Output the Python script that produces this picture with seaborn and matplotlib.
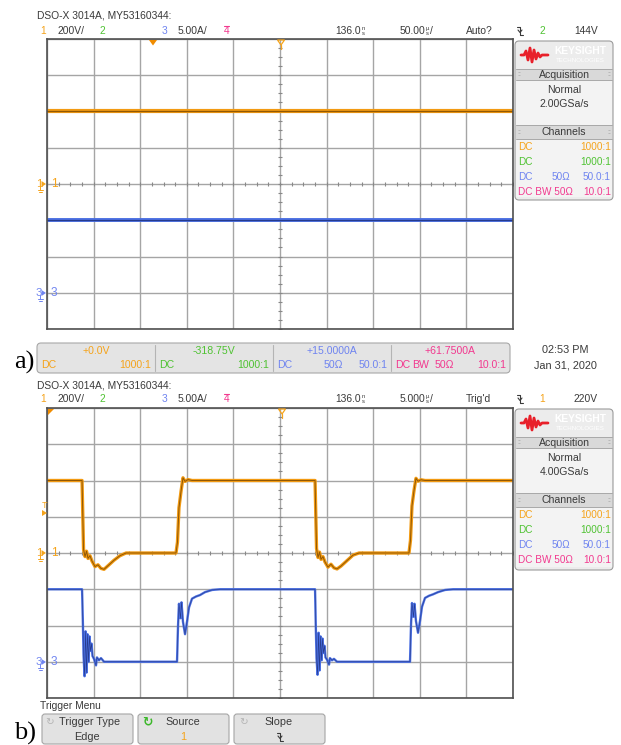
import numpy as np
import pandas as pd
import matplotlib
matplotlib.use("Agg")
import matplotlib.pyplot as plt
import seaborn as sns
from matplotlib.patches import FancyBboxPatch, Polygon

sns.set_theme(style="white")
plt.rcParams["font.family"] = ["Liberation Sans Narrow", "Liberation Sans", "DejaVu Sans"]

# ---------------------------------------------------------------- data
# vertical settings of the two displayed channels
CH1_SCALE = 200.0      # V/div
CH3_SCALE = 5.0        # A/div
CH1_OFFSET_DIV = 0.0   # ground reference of channel 1 (divisions)
CH3_OFFSET_DIV = -3.0  # ground reference of channel 3 (divisions)

# screen a) : 50 us/div, steady conduction
a_time_us = [-250.0, 250.0]
a_ch1_volts = [400.0, 400.0]
a_ch3_amps = [10.0, 10.0]

# screen b) : 5 us/div, switching waveforms
b_ch1_time_us = [-25.0, -21.24, -21.08, -20.92, -20.76, -20.60, -20.39, -20.17, -19.85,
                 -19.53, -19.21, -18.88, -18.45, -17.81, -17.17, -16.52, -11.16, -11.00,
                 -10.84, -10.62, -10.41, -10.19, -9.87, -9.44,
                 3.76, 3.92, 4.08, 4.24, 4.40, 4.61, 4.83, 5.15, 5.47, 5.79, 6.12, 6.55,
                 7.19, 7.83, 8.48, 13.84, 14.00, 14.16, 14.38, 14.59, 14.81, 15.13, 15.56, 25.0]
b_ch1_volts = [400, 400, 20, -20, 10, -30, -15, -45, -75,
               -65, -85, -90, -70, -40, -15, 0, 0, 60,
               250, 340, 415, 395, 405, 400,
               400, 25, -25, 5, -35, -20, -50, -78, -62, -82, -88, -72,
               -42, -12, 0, 0, 70, 260, 345, 412, 396, 404, 400, 400]

b_ch3_time_us = [-25.0, -21.24, -21.16, -21.08, -20.97, -20.86, -20.76, -20.65, -20.54,
                 -20.44, -20.33, -20.22, -20.12, -19.96, -19.74, -19.64, -19.42, -19.21,
                 -18.88, -11.05, -10.94, -10.84, -10.68, -10.57, -10.41, -10.19, -9.98,
                 -9.76, -9.44, -9.01, -8.58, -8.05, -7.30, -6.44,
                 3.76, 3.84, 3.92, 4.03, 4.14, 4.24, 4.35, 4.46, 4.56, 4.67, 4.78, 4.88,
                 5.04, 5.26, 5.36, 5.58, 5.79, 6.12, 13.95, 14.06, 14.16, 14.32, 14.43,
                 14.59, 14.81, 15.02, 15.24, 15.56, 15.99, 16.42, 16.95, 17.70, 18.56, 25.0]
b_ch3_amps = [10, 10, 6, 1, -2, 4.2, -1.5, 3.8, 0,
              3.5, 1.5, 2.5, 0.8, 0.4, -0.5, 0.6, 0.2, 0.5,
              0, 0, 5, 8, 6, 8.2, 5.5, 3.8, 5.5,
              7.5, 8.7, 9.0, 9.2, 9.6, 9.9, 10,
              10, 5, 0.5, -1.8, 4.0, -1.2, 3.5, 0.2, 3.2, 1.2, 2.2, 0.6,
              0.3, -0.4, 0.5, 0.2, 0.4, 0, 0, 5.2, 8.1, 6.2, 8.0,
              5.6, 4.0, 5.6, 7.6, 8.8, 9.1, 9.3, 9.6, 9.9, 10, 10]

# on-screen annotation texts
a_channel_values = ["+0.0V", "-318.75V", "+15.0000A", "+61.7500A"]
b_button_titles = ["Trigger Type", "Source", "Slope"]

# ---------------------------------------------------------------- colours
OR = "#f5a31a"
GR = "#4fc232"
BL = "#6f84f0"
PK = "#f2398f"
TXT = "#3a3a3a"
TR_OR, CORE_OR = "#f29a12", "#7a4800"
TR_BL, CORE_BL = "#4a6fe2", "#1e2f78"

W, H = 621, 745
fig = plt.figure(figsize=(W / 100, H / 100), dpi=100)
fig.patch.set_facecolor("white")


def px_rect(x0, y0, x1, y1):
    return [x0 / W, (H - y1) / H, (x1 - x0) / W, (y1 - y0) / H]


def scope_axes(rect, half_span):
    ax = fig.add_axes(rect)
    ax.set_facecolor("white")
    ax.set_xticks(np.linspace(-half_span, half_span, 11))
    ax.set_yticks(np.arange(-4, 5))
    ax.tick_params(length=0, labelbottom=False, labelleft=False)
    ax.grid(True, color="#a5a5a5", lw=1.0)
    for s in ax.spines.values():
        s.set_color("#505050")
        s.set_linewidth(1.2)
    # minor graticule ticks along the centre lines
    xs = np.linspace(-half_span, half_span, 41)
    ys = np.linspace(-4, 4, 33)
    ax.plot(xs, np.zeros_like(xs), ls="none", marker="|", ms=3.2, mew=0.8, color="#888888")
    ax.plot(np.zeros_like(ys), ys, ls="none", marker="_", ms=3.2, mew=0.8, color="#888888")
    return ax


def trace(ax, t, vals, scale, offset, color, core, lw, core_frac=0.3):
    df = pd.DataFrame({"t": t, "div": np.asarray(vals, dtype=float) / scale + offset})
    sns.lineplot(data=df, x="t", y="div", ax=ax, color=color, lw=lw,
                 estimator=None, sort=False, legend=False)
    sns.lineplot(data=df, x="t", y="div", ax=ax, color=core, lw=lw * core_frac,
                 estimator=None, sort=False, legend=False, alpha=0.8)


def finish(ax, half_span):
    ax.set_xlim(-half_span, half_span)
    ax.set_ylim(-4, 4)
    ax.set_xlabel("")
    ax.set_ylabel("")


ax_a = scope_axes(px_rect(47, 39, 513, 329), 250)
trace(ax_a, a_time_us, a_ch1_volts, CH1_SCALE, CH1_OFFSET_DIV, TR_OR, CORE_OR, 3.0)
trace(ax_a, a_time_us, a_ch3_amps, CH3_SCALE, CH3_OFFSET_DIV, TR_BL, CORE_BL, 2.8)
finish(ax_a, 250)

ax_b = scope_axes(px_rect(47, 408, 513, 698), 25)
trace(ax_b, b_ch1_time_us, b_ch1_volts, CH1_SCALE, CH1_OFFSET_DIV, TR_OR, CORE_OR, 2.4)
trace(ax_b, b_ch3_time_us, b_ch3_amps, CH3_SCALE, CH3_OFFSET_DIV, TR_BL, CORE_BL, 1.7, 0.25)
finish(ax_b, 25)

# ---------------------------------------------------------------- screen furniture
deco = fig.add_axes([0, 0, 1, 1])
deco.set_xlim(0, W)
deco.set_ylim(H, 0)
deco.axis("off")
deco.patch.set_alpha(0)

FS = 7.4
SB = 7.2  # side-bar text size


def txt(x, y, s, color=TXT, size=FS, ha="left", va="center", **kw):
    deco.text(x, y, s, color=color, fontsize=size, ha=ha, va=va, **kw)


def rbox(x0, y0, x1, y1, fc, ec, r=3, lw=0.8):
    deco.add_patch(FancyBboxPatch((x0, y0), x1 - x0, y1 - y0,
                                  boxstyle=f"round,pad=0,rounding_size={r}",
                                  fc=fc, ec=ec, lw=lw))


def hline(x0, x1, y, color="#b0b0b0", lw=0.8):
    deco.plot([x0, x1], [y, y], color=color, lw=lw)


def slope_glyph(x, y, color=TXT):
    deco.plot([x - 3, x, x, x + 3], [y - 4, y - 4, y + 4, y + 4], color=color, lw=0.8)
    deco.plot([x - 2, x, x + 2], [y - 1, y + 1.5, y - 1], color=color, lw=0.8)


def time_value(x_end, y, number, prefix, slash=False):
    txt(x_end, y, number, ha="right")
    txt(x_end + 0.5, y - 2.6, prefix, size=4.2)
    txt(x_end + 0.5, y + 2.4, "s", size=4.2)
    if slash:
        txt(x_end + 4.5, y, "/")


def header(y1, y2, timebase, status, trig_src, trig_color, level):
    txt(37, y1, "DSO-X 3014A, MY53160344:")
    txt(40, y2, "1", OR)
    txt(57, y2, "200V/")
    txt(100, y2, "2", GR)
    txt(162, y2, "3", BL)
    txt(178, y2, "5.00A/")
    txt(224, y2, "4", PK)
    hline(224, 229, y2 - 5.5, PK, 0.8)
    time_value(361, y2, "136.0", "n")
    time_value(425, y2, timebase, "µ", slash=True)
    txt(466, y2, status)
    slope_glyph(520, y2)
    txt(539, y2, trig_src, trig_color)
    txt(574, y2, level)


def wave_logo(x, y):
    dx = [0, 3, 5, 7, 9, 11, 13, 15, 17, 19, 21, 24, 27]
    dy = [0, 0, -4, 5, -7, 7, -5, 4, -2, 2, 0, 0, 0]
    deco.plot([x + d for d in dx], [y + d for d in dy], color="#e8202a", lw=2.0,
              solid_joinstyle="round")


def sidebar(y0, rate, bottom):
    rbox(515, y0, 613, bottom, "#ececec", "#9c9c9c", r=4)
    deco.add_patch(plt.Rectangle((516, y0 + 28), 96, 11, fc="#d9d9d9", ec="none"))
    deco.add_patch(plt.Rectangle((516, y0 + 84), 96, 14, fc="#d9d9d9", ec="none"))
    deco.add_patch(plt.Rectangle((516, y0 + 39), 96, 45, fc="#f3f3f3", ec="none"))
    deco.add_patch(plt.Rectangle((516, y0 + 98), 96, bottom - y0 - 101, fc="#f3f3f3", ec="none"))
    for yy in (y0 + 28, y0 + 39, y0 + 84, y0 + 98):
        hline(516, 612, yy, "#a8a8a8", 0.7)
    wave_logo(521, y0 + 14)
    txt(580, y0 + 10, "KEYSIGHT", "white", size=7.4, ha="center", fontweight="bold")
    txt(580, y0 + 19, "TECHNOLOGIES", "white", size=4.4, ha="center")
    for yy in (y0 + 34, y0 + 91):
        txt(519, yy, "::", "#999999", size=5, ha="center")
        txt(609, yy, "::", "#999999", size=5, ha="center")
    txt(564, y0 + 34, "Acquisition", size=SB + 0.4, ha="center")
    txt(564, y0 + 49, "Normal", size=SB + 0.4, ha="center")
    txt(564, y0 + 63, rate, size=SB + 0.4, ha="center")
    txt(564, y0 + 91, "Channels", size=SB + 0.4, ha="center")
    rows = [y0 + 106, y0 + 121, y0 + 136, y0 + 151]
    txt(518, rows[0], "DC", OR, size=SB)
    txt(611, rows[0], "1000:1", OR, size=SB, ha="right")
    txt(518, rows[1], "DC", GR, size=SB)
    txt(611, rows[1], "1000:1", GR, size=SB, ha="right")
    txt(518, rows[2], "DC", BL, size=SB)
    txt(561, rows[2], "50Ω", BL, size=SB, ha="center")
    txt(611, rows[2], "50.0:1", BL, size=SB, ha="right")
    txt(518, rows[3], "DC BW 50Ω", PK, size=SB)
    txt(611, rows[3], "10.0:1", PK, size=SB, ha="right")


def ground_marker(y, label, color):
    txt(36, y, label, color, size=8.2)
    deco.add_patch(Polygon([(41.5, y - 3), (41.5, y + 3), (46, y)], closed=True, fc=color, ec="none"))
    deco.plot([40, 40], [y + 2, y + 6], color=color, lw=0.7)
    deco.plot([37.5, 42.5], [y + 6, y + 6], color=color, lw=0.7)
    deco.plot([38.5, 41.5], [y + 7.5, y + 7.5], color=color, lw=0.7)
    txt(51, y, label, color, size=8.6)


# ---- screen a)
header(16, 31, "50.00", "Auto?", "2", GR, "144V")
sidebar(41, "2.00GSa/s", 200)
deco.add_patch(Polygon([(149, 40), (157, 40), (153, 45.5)], closed=True, fc="#f08c00", ec="none"))
deco.add_patch(Polygon([(277.5, 40), (284.5, 40), (281, 45)], closed=True, fc="none", ec=OR, lw=0.9))
deco.plot([281, 281], [45, 49], color=OR, lw=0.9)
ground_marker(184, "1", OR)
ground_marker(293, "3", BL)

# channel summary bar
rbox(37, 343, 510, 373, "#e4e4e4", "#a8a8a8", r=4)
for xd in (155, 273, 391):
    deco.plot([xd, xd], [345, 371], color="#b4b4b4", lw=0.8)
sec_cols = [OR, GR, BL, PK]
sec_centres = [96, 214, 332, 450]
for v, c, xc in zip(a_channel_values, sec_cols, sec_centres):
    txt(xc, 350.5, v, c, ha="center", size=7.6)
yb = 365.5
txt(41, yb, "DC", OR, size=7.6)
txt(151, yb, "1000:1", OR, size=7.6, ha="right")
txt(159, yb, "DC", GR, size=7.6)
txt(269, yb, "1000:1", GR, size=7.6, ha="right")
txt(277, yb, "DC", BL, size=7.6)
txt(333, yb, "50Ω", BL, size=7.6, ha="center")
txt(388, yb, "50.0:1", BL, size=7.6, ha="right")
txt(395, yb, "DC", PK, size=7.6)
txt(421, yb, "BW", PK, size=7.6, ha="center")
txt(444, yb, "50Ω", PK, size=7.6, ha="center")
txt(506, yb, "10.0:1", PK, size=7.6, ha="right")
txt(565, 350, "02:53 PM", size=7.8, ha="center")
txt(565, 366, "Jan 31, 2020", size=7.8, ha="center")

# ---- screen b)
header(385, 399, "5.000", "Trig'd", "1", OR, "220V")
sidebar(409, "4.00GSa/s", 570)
deco.add_patch(Polygon([(48, 409), (54, 409), (48, 415)], closed=True, fc="#f08c00", ec="none"))
deco.add_patch(Polygon([(278.5, 409), (285.5, 409), (282, 414)], closed=True, fc="none", ec=OR, lw=0.9))
deco.plot([282, 282], [414, 418], color=OR, lw=0.9)
ground_marker(553, "1", OR)
ground_marker(662, "3", BL)
txt(44, 505, "T", OR, size=6.5, ha="center")
deco.add_patch(Polygon([(42, 510), (42, 516), (47, 513)], closed=True, fc=OR, ec="none"))

# softkey menu
txt(40, 706, "Trigger Menu")
for (x0, x1) in ((42, 133), (138, 229), (234, 325)):
    rbox(x0, 714, x1, 744, "#e2e2e2", "#a5a5a5", r=3)
txt(50, 722, "↻", "#b5b5b5", size=7.5, ha="center")
txt(90, 722, b_button_titles[0], size=7.8, ha="center")
txt(87, 737, "Edge", size=7.8, ha="center")
txt(147, 722, "↻", "#3cb82a", size=9, ha="center", fontweight="bold")
txt(183, 722, b_button_titles[1], size=7.8, ha="center")
txt(183, 737, "1", OR, size=7.8, ha="center")
txt(244, 722, "↻", "#b5b5b5", size=7.5, ha="center")
txt(279, 722, b_button_titles[2], size=7.8, ha="center")
slope_glyph(280, 737)

# panel letters
txt(14, 362, "a)", "black", size=19, family="Liberation Serif")
txt(14, 733, "b)", "black", size=19, family="Liberation Serif")

fig.savefig("out.png", dpi=100, facecolor="white")
